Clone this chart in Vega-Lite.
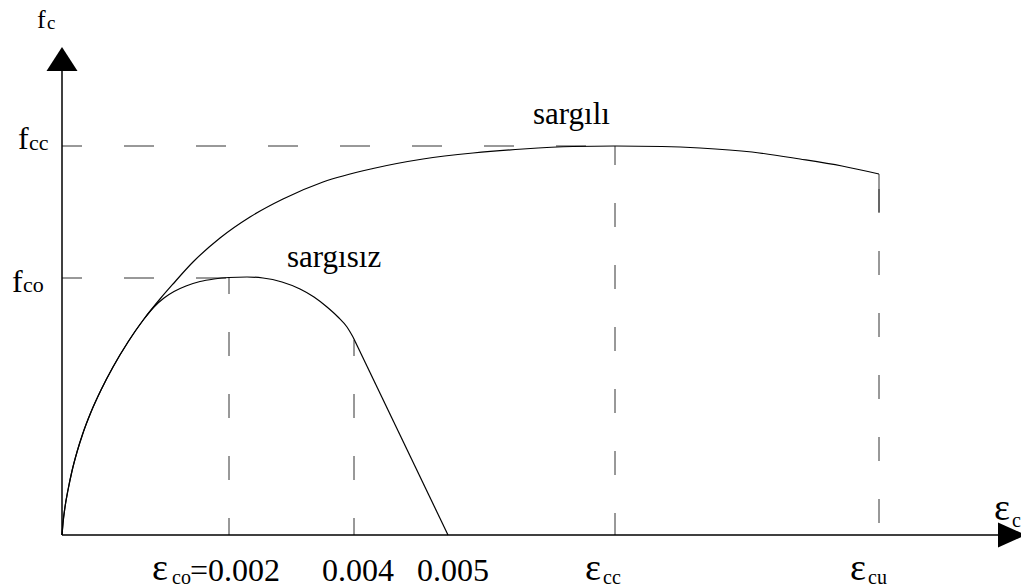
{
  "$schema": "https://vega.github.io/schema/vega-lite/v6.json",
  "width": 1021,
  "height": 588,
  "autosize": {"type": "none"},
  "padding": 0,
  "background": "white",
  "config": {"view": {"stroke": null}},
  "datasets": {
    "confined": [
      {"u": 0, "v": 0}, {"u": 1, "v": 12}, {"u": 3, "v": 28}, {"u": 6, "v": 45}, {"u": 10, "v": 64},
      {"u": 15, "v": 83}, {"u": 21, "v": 102}, {"u": 29, "v": 123}, {"u": 39, "v": 145}, {"u": 51, "v": 168},
      {"u": 66, "v": 193}, {"u": 82, "v": 216}, {"u": 98, "v": 236}, {"u": 111, "v": 251}, {"u": 131, "v": 273},
      {"u": 158, "v": 297}, {"u": 188, "v": 318}, {"u": 221, "v": 336}, {"u": 261, "v": 353}, {"u": 311, "v": 366.5},
      {"u": 361, "v": 376}, {"u": 411, "v": 382}, {"u": 461, "v": 386}, {"u": 511, "v": 388.5}, {"u": 553, "v": 389},
      {"u": 600, "v": 388.5}, {"u": 638, "v": 387}, {"u": 690, "v": 383}, {"u": 738, "v": 376}, {"u": 780, "v": 369},
      {"u": 817, "v": 361}
    ],
    "unconfined": [
      {"u": 0, "v": 0}, {"u": 1, "v": 12}, {"u": 3, "v": 28}, {"u": 6, "v": 45}, {"u": 10, "v": 64},
      {"u": 15, "v": 83}, {"u": 21, "v": 102}, {"u": 29, "v": 123}, {"u": 39, "v": 145}, {"u": 51, "v": 168},
      {"u": 66, "v": 193}, {"u": 82, "v": 216}, {"u": 92, "v": 228}, {"u": 102, "v": 237}, {"u": 112, "v": 243.5},
      {"u": 124, "v": 249}, {"u": 138, "v": 253.5}, {"u": 152, "v": 256}, {"u": 167, "v": 257.5}, {"u": 185, "v": 258},
      {"u": 201, "v": 257}, {"u": 220, "v": 253}, {"u": 238, "v": 246}, {"u": 252, "v": 238}, {"u": 265, "v": 228},
      {"u": 276, "v": 218}, {"u": 285, "v": 208}, {"u": 291, "v": 198}
    ],
    "descent": [{"u": 291, "v": 198}, {"u": 386, "v": 0}],
    "hguides": [{"u": 0, "u2": 553, "v": 389}, {"u": 0, "u2": 167, "v": 257}],
    "vguidesA": [{"u": 167, "v": 0, "v2": 257}, {"u": 292, "v": 0, "v2": 195}],
    "vguidesB": [{"u": 553, "v": 0, "v2": 389}],
    "vguidesC": [{"u": 817, "v": 0, "v2": 361}],
    "endcap": [{"u": 817, "v": 323, "v2": 361}],
    "yaxis": [{"u": 0, "v": 0, "v2": 465}],
    "xaxis": [{"u": 0, "u2": 936, "v": 0}],
    "yarrow": [{"u": 0, "v": 476}],
    "xarrow": [{"u": 950, "v": 0}],
    "labels": [
      {"t": "f", "u": -25, "v": 507, "role": "title"},
      {"t": "c", "u": -15, "v": 506, "role": "titlesub"},
      {"t": "f", "u": -44, "v": 386, "role": "big"},
      {"t": "cc", "u": -33, "v": 385, "role": "fsub"},
      {"t": "f", "u": -50, "v": 243, "role": "big"},
      {"t": "co", "u": -39, "v": 243, "role": "fsub"},
      {"t": "ε", "u": 90, "v": -45, "role": "eps"},
      {"t": "co", "u": 110, "v": -49, "role": "sub"},
      {"t": "=0.002", "u": 128, "v": -46, "role": "big"},
      {"t": "0.004", "u": 260, "v": -46, "role": "big"},
      {"t": "0.005", "u": 355, "v": -46, "role": "big"},
      {"t": "ε", "u": 523, "v": -45, "role": "eps"},
      {"t": "cc", "u": 541, "v": -49, "role": "sub"},
      {"t": "ε", "u": 788, "v": -45, "role": "eps"},
      {"t": "cu", "u": 806, "v": -49, "role": "sub"},
      {"t": "ε", "u": 932, "v": 15, "role": "eps"},
      {"t": "c", "u": 950, "v": 8, "role": "sub"},
      {"t": "sargılı", "u": 471, "v": 411, "role": "curve"},
      {"t": "sargısız", "u": 225, "v": 268, "role": "curve"}
    ]
  },
  "encoding": {
    "x": {"field": "u", "type": "quantitative", "scale": {"domain": [-62, 959], "nice": false, "zero": false}, "axis": null},
    "y": {"field": "v", "type": "quantitative", "scale": {"domain": [-53, 535], "nice": false, "zero": false}, "axis": null}
  },
  "layer": [
    {
      "data": {"name": "hguides"},
      "mark": {"type": "rule", "color": "#333", "strokeWidth": 1, "strokeDash": [30, 42], "strokeDashOffset": 10},
      "encoding": {"x2": {"field": "u2"}}
    },
    {
      "data": {"name": "vguidesA"},
      "mark": {"type": "rule", "color": "#333", "strokeWidth": 1, "strokeDash": [24, 38], "strokeDashOffset": 7},
      "encoding": {"y2": {"field": "v2"}}
    },
    {
      "data": {"name": "vguidesB"},
      "mark": {"type": "rule", "color": "#333", "strokeWidth": 1, "strokeDash": [24, 38], "strokeDashOffset": 2},
      "encoding": {"y2": {"field": "v2"}}
    },
    {
      "data": {"name": "vguidesC"},
      "mark": {"type": "rule", "color": "#333", "strokeWidth": 1, "strokeDash": [24, 38], "strokeDashOffset": 50},
      "encoding": {"y2": {"field": "v2"}}
    },
    {
      "data": {"name": "endcap"},
      "mark": {"type": "rule", "color": "#333", "strokeWidth": 1},
      "encoding": {"y2": {"field": "v2"}}
    },
    {
      "data": {"name": "confined"},
      "mark": {"type": "line", "color": "black", "strokeWidth": 1.2, "interpolate": "monotone"},
      "encoding": {}
    },
    {
      "data": {"name": "unconfined"},
      "mark": {"type": "line", "color": "black", "strokeWidth": 1.2, "interpolate": "monotone"},
      "encoding": {}
    },
    {
      "data": {"name": "descent"},
      "mark": {"type": "line", "color": "black", "strokeWidth": 1.2},
      "encoding": {}
    },
    {
      "data": {"name": "yaxis"},
      "mark": {"type": "rule", "color": "black", "strokeWidth": 1.5},
      "encoding": {"y2": {"field": "v2"}}
    },
    {
      "data": {"name": "xaxis"},
      "mark": {"type": "rule", "color": "black", "strokeWidth": 1.5},
      "encoding": {"x2": {"field": "u2"}}
    },
    {
      "data": {"name": "labels"},
      "transform": [{"filter": "datum.role === 'big'"}],
      "mark": {"type": "text", "align": "left", "baseline": "alphabetic", "font": "Liberation Serif", "fontSize": 32, "color": "black"},
      "encoding": {"text": {"field": "t"}}
    },
    {
      "data": {"name": "labels"},
      "transform": [{"filter": "datum.role === 'eps'"}],
      "mark": {"type": "text", "align": "left", "baseline": "alphabetic", "font": "Liberation Serif", "fontSize": 38, "color": "black"},
      "encoding": {"text": {"field": "t"}}
    },
    {
      "data": {"name": "labels"},
      "transform": [{"filter": "datum.role === 'sub'"}],
      "mark": {"type": "text", "align": "left", "baseline": "alphabetic", "font": "Liberation Serif", "fontSize": 20, "color": "black"},
      "encoding": {"text": {"field": "t"}}
    },
    {
      "data": {"name": "labels"},
      "transform": [{"filter": "datum.role === 'fsub'"}],
      "mark": {"type": "text", "align": "left", "baseline": "alphabetic", "font": "Liberation Serif", "fontSize": 22, "color": "black"},
      "encoding": {"text": {"field": "t"}}
    },
    {
      "data": {"name": "labels"},
      "transform": [{"filter": "datum.role === 'title'"}],
      "mark": {"type": "text", "align": "left", "baseline": "alphabetic", "font": "Liberation Serif", "fontSize": 26, "color": "black"},
      "encoding": {"text": {"field": "t"}}
    },
    {
      "data": {"name": "labels"},
      "transform": [{"filter": "datum.role === 'titlesub'"}],
      "mark": {"type": "text", "align": "left", "baseline": "alphabetic", "font": "Liberation Serif", "fontSize": 19, "color": "black"},
      "encoding": {"text": {"field": "t"}}
    },
    {
      "data": {"name": "labels"},
      "transform": [{"filter": "datum.role === 'curve'"}],
      "mark": {"type": "text", "align": "left", "baseline": "alphabetic", "font": "Liberation Serif", "fontSize": 31, "color": "black"},
      "encoding": {"text": {"field": "t"}}
    },
    {
      "data": {"name": "yarrow"},
      "mark": {"type": "point", "shape": "M-1,0.77L0,-0.77L1,0.77Z", "size": 961, "filled": true, "color": "black", "opacity": 1, "strokeWidth": 0},
      "encoding": {}
    },
    {
      "data": {"name": "xarrow"},
      "mark": {"type": "point", "shape": "M-1,-0.89L1,0L-1,0.89Z", "size": 784, "filled": true, "color": "black", "opacity": 1, "strokeWidth": 0},
      "encoding": {}
    }
  ]
}
